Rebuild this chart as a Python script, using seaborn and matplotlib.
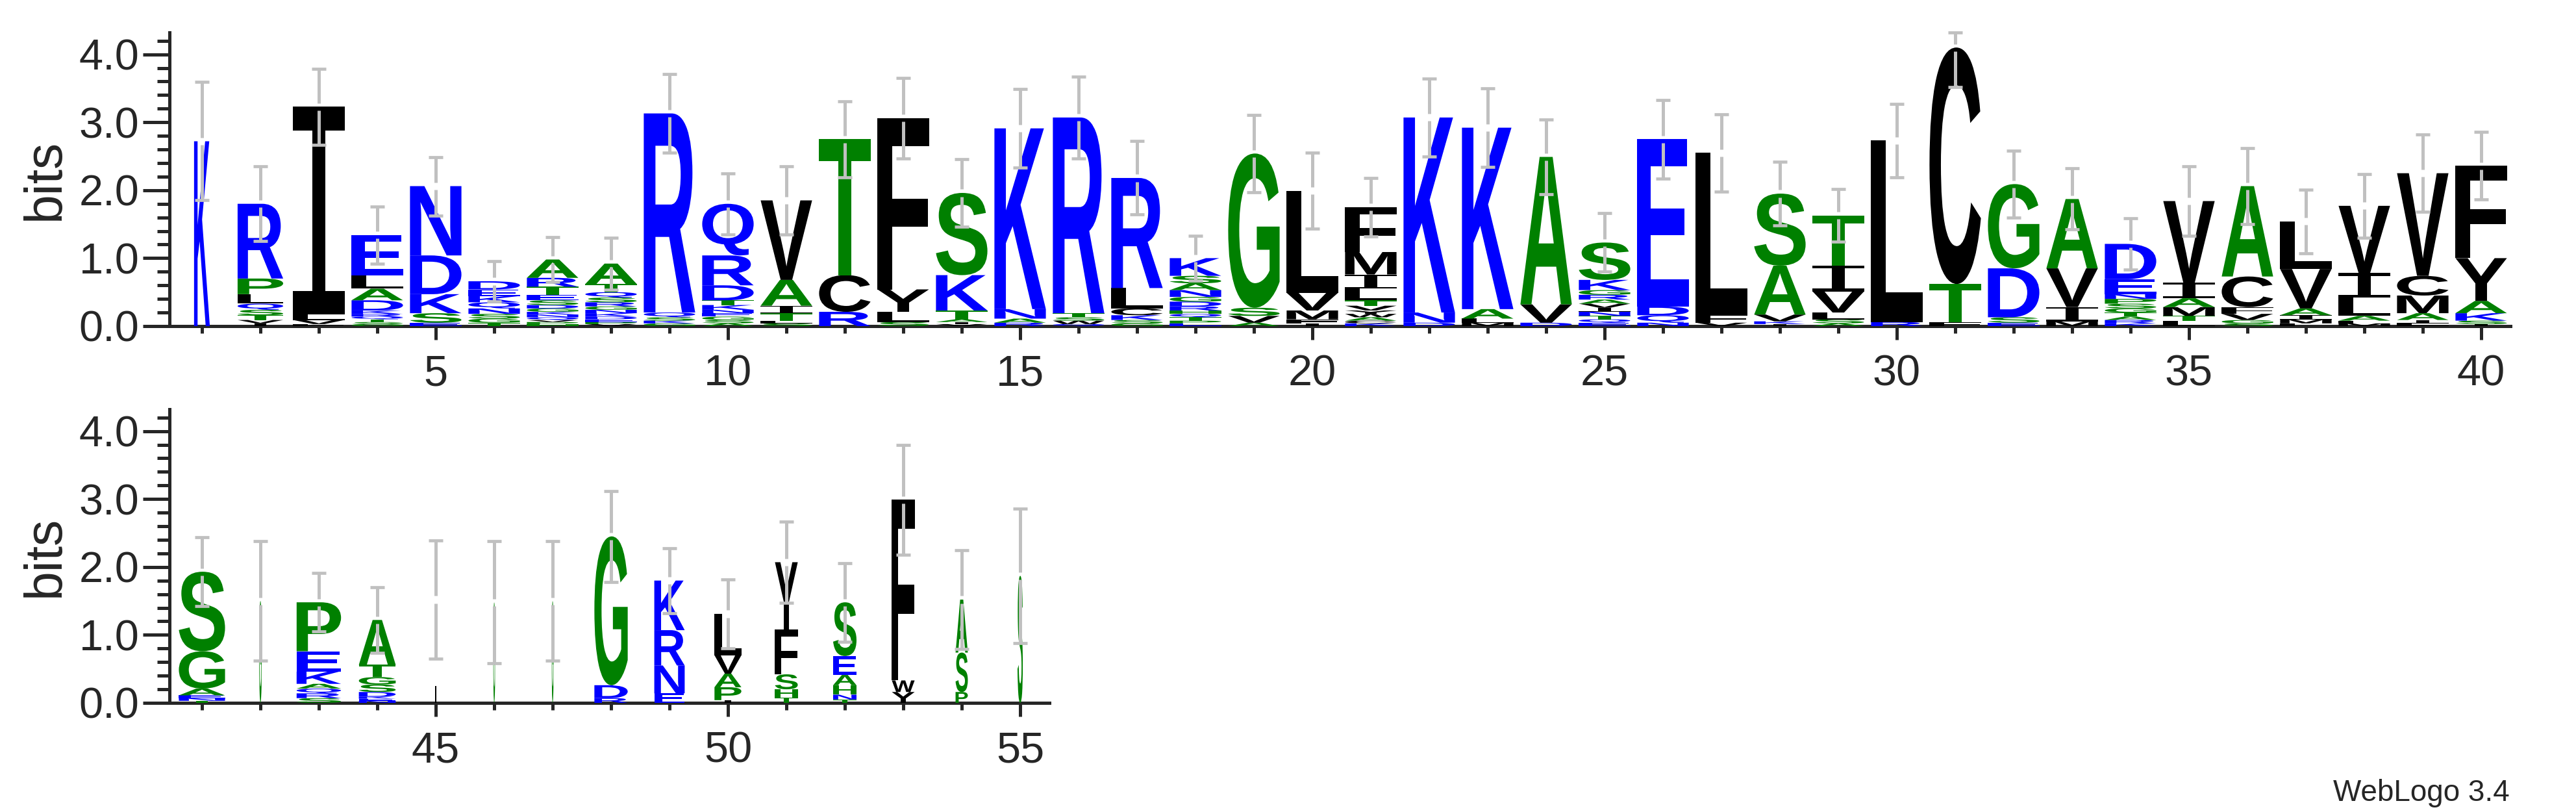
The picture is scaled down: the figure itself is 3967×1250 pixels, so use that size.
# sequence logo, two rows, letters stretched to fill their boxes

import numpy as np
import matplotlib
matplotlib.use("Agg")
import matplotlib.pyplot as plt
import matplotlib.patheffects as pe
from matplotlib.transforms import Affine2D
import seaborn as sns

# letters of each stack, bottom to top, and their heights in bits
stack_letters = [
    "K", "IVTSQLPR", "FVLI", "GSTQRKDALE", "ESKDN", "TGSNQKED",
    "HPVQNKGDSETRA", "VPEDKNGRSQTA", "GKSQR", "ASGENKTDRQ",
    "SLTIAV", "RCT", "SLYF", "VIATKS", "RANK", "QWSTR", "GSKCLR",
    "EPTQHRDGNASK", "AVSG", "IFMVL", "KCAWYVTLIMF", "DNK", "MLAK",
    "DVA", "EQTNIVARGKS", "NQDE", "VFL", "IKVAS", "ASLVIT", "RL",
    "FTC", "ESDG", "MIVA", "KRATGSPNED", "LFTMAIV", "SGVFCA",
    "FMIAVL", "MFALIV", "LIAMCV", "ISKAYF",
    "TNEAGS", "G", "SRQAKEP", "NEKDSGTA", "L", "G", "G", "RDG",
    "ENRK", "IPAVL", "THSFY", "TNHAES", "YWF", "PSA", "S",
]
stack_heights = [
    [2.72], [0.04, 0.05, 0.07, 0.08, 0.09, 0.14, 0.23, 1.10],
    [0.03, 0.06, 0.08, 3.06],
    [0.03, 0.03, 0.04, 0.04, 0.04, 0.05, 0.15, 0.17, 0.20, 0.59],
    [0.05, 0.14, 0.28, 0.57, 1.02],
    [0.05, 0.06, 0.07, 0.08, 0.09, 0.09, 0.10, 0.12],
    [0.03, 0.03, 0.03, 0.04, 0.04, 0.04, 0.05, 0.05, 0.07, 0.08, 0.12, 0.13, 0.27],
    [0.03, 0.03, 0.04, 0.04, 0.05, 0.05, 0.05, 0.06, 0.07, 0.08, 0.12, 0.30],
    [0.04, 0.04, 0.05, 0.07, 2.93],
    [0.04, 0.05, 0.05, 0.05, 0.05, 0.07, 0.07, 0.22, 0.44, 0.76],
    [0.04, 0.04, 0.11, 0.11, 0.38, 1.17],
    [0.21, 0.54, 2.00],
    [0.06, 0.15, 0.33, 2.52],
    [0.03, 0.03, 0.04, 0.13, 0.52, 1.21],
    [0.05, 0.06, 0.14, 2.66],
    [0.03, 0.05, 0.05, 0.06, 2.88],
    [0.04, 0.05, 0.07, 0.10, 0.30, 1.62],
    [0.04, 0.04, 0.05, 0.05, 0.05, 0.06, 0.07, 0.07, 0.10, 0.10, 0.11, 0.26],
    [0.05, 0.10, 0.12, 2.27],
    [0.04, 0.06, 0.13, 0.26, 1.50],
    [0.04, 0.04, 0.05, 0.05, 0.05, 0.07, 0.08, 0.17, 0.21, 0.33, 0.66],
    [0.05, 0.15, 2.87],
    [0.05, 0.06, 0.14, 2.67],
    [0.05, 0.27, 2.17],
    [0.05, 0.05, 0.05, 0.06, 0.06, 0.06, 0.06, 0.07, 0.07, 0.15, 0.55],
    [0.05, 0.11, 0.13, 2.46],
    [0.05, 0.12, 2.38],
    [0.03, 0.04, 0.10, 0.72, 1.06],
    [0.04, 0.06, 0.10, 0.31, 0.38, 0.74],
    [0.06, 2.67],
    [0.06, 0.56, 3.48],
    [0.05, 0.08, 0.72, 1.24],
    [0.07, 0.21, 0.57, 1.02],
    [0.04, 0.05, 0.05, 0.06, 0.06, 0.07, 0.07, 0.07, 0.22, 0.52],
    [0.04, 0.04, 0.07, 0.13, 0.13, 0.23, 1.20],
    [0.04, 0.05, 0.09, 0.10, 0.45, 1.33],
    [0.04, 0.06, 0.06, 0.10, 0.58, 0.70],
    [0.04, 0.04, 0.07, 0.27, 0.36, 0.99],
    [0.04, 0.05, 0.10, 0.26, 0.29, 1.51],
    [0.03, 0.05, 0.11, 0.18, 0.63, 1.36],
    [0.03, 0.04, 0.04, 0.10, 0.55, 1.17],
    [1.50],
    [0.07, 0.07, 0.07, 0.07, 0.18, 0.30, 0.72],
    [0.03, 0.03, 0.03, 0.07, 0.11, 0.11, 0.18, 0.66],
    [1.52], [1.48], [1.50],
    [0.07, 0.19, 2.19],
    [0.14, 0.41, 0.52, 0.73],
    [0.04, 0.19, 0.20, 0.27, 0.61],
    [0.08, 0.12, 0.22, 0.66, 0.99],
    [0.05, 0.07, 0.14, 0.15, 0.28, 0.79],
    [0.16, 0.17, 2.66],
    [0.16, 0.58, 0.78],
    [1.87],
]
# relative stack width (share of sequences present)
stack_widths = [0.27, 0.78] + [0.88] * 38 + [
    0.79, 0.04, 0.76, 0.63, 0.03, 0.03, 0.03, 0.57,
    0.52, 0.46, 0.39, 0.40, 0.39, 0.21, 0.09]
error_bits = [
    0.87, 0.55, 0.56, 0.42, 0.43, 0.30, 0.33, 0.38, 0.58, 0.45,
    0.50, 0.56, 0.59, 0.50, 0.58, 0.60, 0.54, 0.33, 0.57, 0.56,
    0.43, 0.57, 0.58, 0.55, 0.43, 0.58, 0.57, 0.47, 0.39, 0.54,
    0.58, 0.49, 0.45, 0.38, 0.51, 0.56, 0.47, 0.47, 0.57, 0.50,
    0.51, 0.88, 0.43, 0.48, 0.87, 0.90, 0.88, 0.67, 0.48, 0.51,
    0.60, 0.58, 0.81, 0.73, 0.99]
positions = list(range(1, len(stack_letters) + 1))

row_ranges = [(1, 40), (41, 55)]
row_ticks = [[5, 10, 15, 20, 25, 30, 35, 40], [45, 50, 55]]

max_bits = np.log2(20)

# hydrophobicity colour scheme
letter_colors = {}
for c in "RKDENQ":
    letter_colors[c] = "#0000ff"
for c in "SGHTAP":
    letter_colors[c] = "#008000"
for c in "YVMCLFIW":
    letter_colors[c] = "#000000"


class FillBox(pe.AbstractPathEffect):
    """draw the glyph stretched to exactly fill a data-space box"""

    def __init__(self, ax, x0, x1, y0, y1):
        super().__init__()
        self.ax = ax
        self.box = (x0, x1, y0, y1)

    def draw_path(self, renderer, gc, tpath, affine, rgbFace=None):
        x0, x1, y0, y1 = self.box
        (dx0, dy0), (dx1, dy1) = self.ax.transData.transform([(x0, y0), (x1, y1)])
        ext = tpath.get_extents()
        sx = (dx1 - dx0) / ext.width
        sy = (dy1 - dy0) / ext.height
        tr = Affine2D().translate(-ext.x0, -ext.y0).scale(sx, sy).translate(dx0, dy0)
        renderer.draw_path(gc, tpath, tr, rgbFace)


sns.set_style("ticks")
plt.rcParams["font.family"] = ["Liberation Sans", "DejaVu Sans"]

W, H = 3967, 1250
fig = plt.figure(figsize=(W / 100, H / 100), dpi=100)

axes_px = [(261, 502, 3866), (261, 1082, 1616)]  # left, zero line, right
bit_px = 104.6
bar_grey = "#c0c0c0"
gap = 0.053      # small break in the error bar at the stack top
cap_half = 0.117

for (first, last), ticks, (left, zero, right) in zip(row_ranges, row_ticks, axes_px):
    ax = fig.add_axes([left / W, (H - zero) / H, (right - left) / W,
                       max_bits * bit_px / H])
    ax.set_xlim(first - 50 / 90, last + 0.5)
    ax.set_ylim(0, max_bits)

    tops = []
    for p in range(first, last + 1):
        i = p - 1
        w = stack_widths[i] / 2
        y = 0.0
        for letter, h in zip(stack_letters[i], stack_heights[i]):
            if letter == "I":
                fam, wt = ["DejaVu Sans Mono"], "normal"
            else:
                fam, wt = ["Liberation Sans", "DejaVu Sans"], "bold"
            ax.text(p, y, letter, fontsize=10, fontweight=wt, family=fam,
                    color=letter_colors[letter], clip_on=False,
                    path_effects=[FillBox(ax, p - w, p + w, y, y + h)])
            y += h
        tops.append(y)

    xs = np.arange(first, last + 1)
    tops = np.array(tops)
    err = np.array(error_bits[first - 1:last])
    lows = tops - err
    highs = np.minimum(tops + err, max_bits)
    ax.vlines(xs, lows, tops - gap, color=bar_grey, lw=3.6, zorder=5, clip_on=False)
    ax.vlines(xs, tops + gap, highs, color=bar_grey, lw=3.6, zorder=5, clip_on=False)
    ax.hlines(np.concatenate([lows, highs]), np.tile(xs - cap_half, 2),
              np.tile(xs + cap_half, 2), color=bar_grey, lw=3.4, zorder=5,
              clip_on=False)

    sns.despine(ax=ax)
    for s in ["left", "bottom"]:
        ax.spines[s].set_linewidth(3.6)

    ax.set_yticks([0, 1, 2, 3, 4])
    ax.set_yticklabels(["0.0", "1.0", "2.0", "3.0", "4.0"])
    ax.set_yticks([k * 0.2 for k in range(22)], minor=True)
    ax.set_xticks(ticks)
    ax.set_xticklabels([str(t) for t in ticks])
    ax.set_xticks(list(range(first, last + 1)), minor=True)

    ax.tick_params(axis="y", which="major", length=29.5, width=3.6,
                   labelsize=48, pad=4)
    ax.tick_params(axis="y", which="minor", length=13.7, width=3.6)
    ax.tick_params(axis="x", which="major", length=15, width=3.6,
                   labelsize=48, pad=16)
    ax.tick_params(axis="x", which="minor", length=8, width=3.6)

    ax.set_ylabel("bits", fontsize=58, va="center")
    ax.yaxis.set_label_coords(-(left - 70) / (right - left), 0.5)

fig.text(3865 / W, 1 - 1233 / H, "WebLogo 3.4", fontsize=33,
         ha="right", va="baseline")

fig.savefig("out.png", dpi=100)
